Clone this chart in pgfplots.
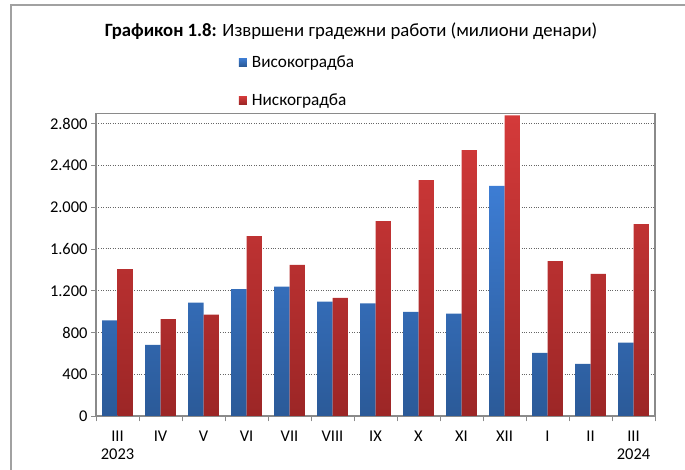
\documentclass[border=0pt]{standalone}
\usepackage{fontspec}
\setmainfont{Carlito}
\usepackage{pgfplots}
\pgfplotsset{compat=1.18}
\definecolor{bluetop}{HTML}{3D7DD4}
\definecolor{bluebot}{HTML}{2B5A98}
\definecolor{redtop}{HTML}{D43A3A}
\definecolor{redbot}{HTML}{9C2626}
\definecolor{framegray}{HTML}{8A8A8A}
\begin{document}
\begin{tikzpicture}[x=1bp,y=1bp]
\useasboundingbox (0,0) rectangle (685,470);
\draw[framegray!80, line width=1.3bp] (11,-5) -- (11,465) -- (690,465);
\node[font=\fontsize{18.8}{22}\selectfont] at (351,439) {\textbf{Графикон 1.8:} Извршени градежни работи (милиони денари)};
\begin{axis}[
  at={(96bp,54bp)}, anchor=south west,
  width=559bp, height=302.7bp, scale only axis,
  xmin=-0.5, xmax=12.5, ymin=0, ymax=2900,
  ybar=0pt, bar width=15.3bp,
  ytick={0,400,...,2800},
  xtick={0,...,12},
  xticklabels={{III\\2023},IV,V,VI,VII,VIII,IX,X,XI,XII,I,II,{III\\2024}},
  xticklabel style={align=center, anchor=north, yshift=-6bp, font=\fontsize{16.5}{18.5}\selectfont},
  minor xtick={-0.5,0.5,...,12.5},
  major x tick style={draw=none},
  tick pos=left, tick align=outside,
  major tick length=5bp, minor tick length=5.5bp,
  tick style={framegray, line width=0.9bp},
  ymajorgrids,
  grid style={dotted, gray!80!black, line width=1bp},
  axis line style={framegray, line width=1.2bp},
  yticklabel style={font=\fontsize{16.5}{19}\selectfont},
  /pgf/number format/.cd, 1000 sep={.}, assume math mode=true,
  /pgfplots/.cd,
  legend style={at={(0.25,1.205)}, anchor=north west, draw=none, fill=none,
    font=\fontsize{17.3}{19}\selectfont, row sep=21bp,
    /tikz/every odd column/.append style={column sep=3bp}},
  legend cell align=left,
  legend image code/.code={\fill[#1] (0bp,-4bp) rectangle (8bp,4bp);},
]
\addplot[draw=none, top color=bluetop, bottom color=bluebot] coordinates {
(0,915) (1,681) (2,1087) (3,1215) (4,1240) (5,1096) (6,1080) (7,997) (8,981) (9,2205) (10,604) (11,499) (12,703)};
\addlegendentry{Високоградба}
\addplot[draw=none, top color=redtop, bottom color=redbot] coordinates {
(0,1407) (1,927) (2,972) (3,1723) (4,1448) (5,1131) (6,1867) (7,2260) (8,2548) (9,2880) (10,1483) (11,1362) (12,1838)};
\addlegendentry{Нискоградба}
\end{axis}
\end{tikzpicture}
\end{document}
